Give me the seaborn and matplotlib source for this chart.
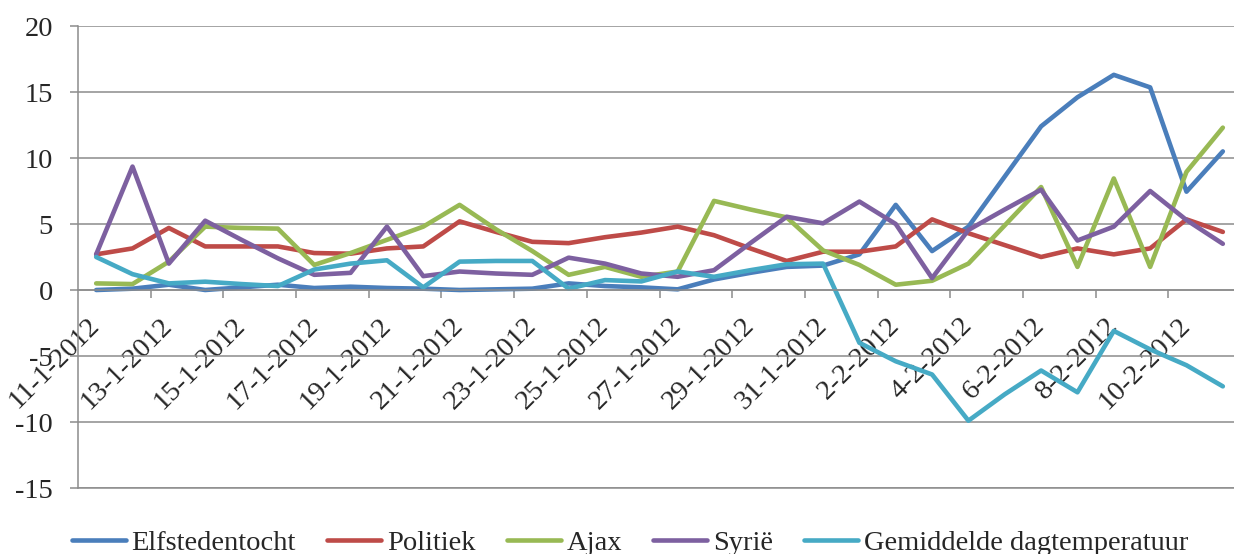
import pandas as pd
import matplotlib
matplotlib.use("Agg")
import matplotlib.pyplot as plt
import seaborn as sns

# ── Data ─────────────────────────────────────────────────────────────────────
dates = ["11-1-2012", "12-1-2012", "13-1-2012", "14-1-2012", "15-1-2012", "16-1-2012",
         "17-1-2012", "18-1-2012", "19-1-2012", "20-1-2012", "21-1-2012", "22-1-2012",
         "23-1-2012", "24-1-2012", "25-1-2012", "26-1-2012", "27-1-2012", "28-1-2012",
         "29-1-2012", "30-1-2012", "31-1-2012", "1-2-2012", "2-2-2012", "3-2-2012",
         "4-2-2012", "5-2-2012", "6-2-2012", "7-2-2012", "8-2-2012", "9-2-2012",
         "10-2-2012", "11-2-2012"]

elfstedentocht = [0.0, 0.1, 0.4, 0.0, 0.2, 0.4, 0.15, 0.25, 0.15, 0.1, 0.0, 0.05,
                  0.1, 0.5, 0.3, 0.2, 0.05, 0.8, 1.3, 1.75, 1.85, 2.7, 6.45, 2.95,
                  4.8, 8.6, 12.4, 14.6, 16.3, 15.35, 7.45, 10.5]
politiek = [2.7, 3.15, 4.7, 3.3, 3.3, 3.3, 2.8, 2.75, 3.15, 3.3, 5.2, 4.4,
            3.65, 3.55, 4.0, 4.35, 4.8, 4.15, 3.15, 2.2, 2.9, 2.9, 3.3, 5.35,
            4.3, 3.4, 2.5, 3.15, 2.7, 3.15, 5.35, 4.4]
ajax = [0.5, 0.45, 2.15, 4.8, 4.7, 4.65, 1.9, 2.8, 3.8, 4.8, 6.45, 4.6,
        2.95, 1.15, 1.75, 1.0, 1.4, 6.75, 6.1, 5.5, 3.0, 1.9, 0.4, 0.7,
        2.0, 4.9, 7.8, 1.75, 8.45, 1.75, 8.95, 12.3]
syrie = [2.7, 9.35, 2.0, 5.25, 3.8, 2.4, 1.15, 1.3, 4.8, 1.05, 1.4, 1.25,
         1.15, 2.45, 2.0, 1.25, 1.0, 1.5, 3.55, 5.55, 5.05, 6.7, 5.0, 0.9,
         4.55, 6.1, 7.6, 3.75, 4.8, 7.5, 5.3, 3.5]
temperatuur = [2.5, 1.2, 0.5, 0.63, 0.45, 0.3, 1.55, 2.0, 2.25, 0.2, 2.15, 2.2,
               2.2, 0.1, 0.75, 0.65, 1.4, 1.0, 1.5, 1.95, 2.0, -4.0, -5.4, -6.4,
               -9.9, -7.9, -6.1, -7.75, -3.1, -4.5, -5.7, -7.3]

series_names = ["Elfstedentocht", "Politiek", "Ajax", "Syrië", "Gemiddelde dagtemperatuur"]
series_values = [elfstedentocht, politiek, ajax, syrie, temperatuur]
colors = ["#4A7EBB", "#BE4B48", "#98B954", "#7D60A0", "#46AAC5"]

rows = []
for name, vals in zip(series_names, series_values):
    for i, v in enumerate(vals):
        rows.append({"idx": i, "datum": dates[i], "waarde": v, "reeks": name})
df = pd.DataFrame(rows)

# ── Style ─────────────────────────────────────────────────────────────────────
sns.set_theme(style="white")
plt.rcParams["font.family"] = ["Liberation Serif", "DejaVu Serif"]
plt.rcParams["axes.unicode_minus"] = False
grid_col = "#8C8C8C"
fs = 20.5

fig = plt.figure(figsize=(12.34, 5.54), dpi=100)
ax = fig.add_axes([78 / 1234, 66 / 554, 1163 / 1234, 462 / 554])

sns.lineplot(data=df, x="idx", y="waarde", hue="reeks", hue_order=series_names,
             palette=colors, linewidth=3.3, sort=False, ax=ax)

ax.set_xlim(-0.5, len(dates) - 0.5)
ax.set_ylim(-15, 20)
ax.set_yticks(range(-15, 21, 5))
ax.yaxis.grid(True, color=grid_col, linewidth=1.1)
ax.set_axisbelow(True)
ax.set_xlabel("")
ax.set_ylabel("")

for side in ["top", "right"]:
    ax.spines[side].set_visible(False)
ax.spines["left"].set_color(grid_col)
ax.spines["left"].set_linewidth(1.1)
ax.spines["bottom"].set_position(("data", 0))
ax.spines["bottom"].set_color(grid_col)
ax.spines["bottom"].set_linewidth(1.1)
ax.axhline(-15, color=grid_col, linewidth=1.1, clip_on=False)

# tick marks between categories, labels on every second category
ax.set_xticks([i + 1.5 for i in range(0, len(dates) - 1, 2)])
ax.set_xticklabels([])
ax.set_xticks(list(range(0, len(dates), 2)), minor=True)
ax.set_xticklabels(dates[::2], minor=True, rotation=45, ha="right", va="center",
                   rotation_mode="anchor", fontsize=fs)
ax.tick_params(axis="x", which="major", direction="out", length=6, width=1.1,
               color=grid_col, bottom=True)
ax.tick_params(axis="x", which="minor", length=0, pad=23)
ax.tick_params(axis="y", direction="out", length=6, width=1.1, color=grid_col,
               left=True, labelsize=fs, pad=12)

handles, labels = ax.get_legend_handles_labels()
ax.get_legend().remove()
fig.legend(handles, labels, loc="center", bbox_to_anchor=(630 / 1234, 11 / 554),
           ncol=5, frameon=False, fontsize=fs, handlelength=1.9,
           handletextpad=0.2, columnspacing=1.1)

fig.savefig("out.png", dpi=100)
